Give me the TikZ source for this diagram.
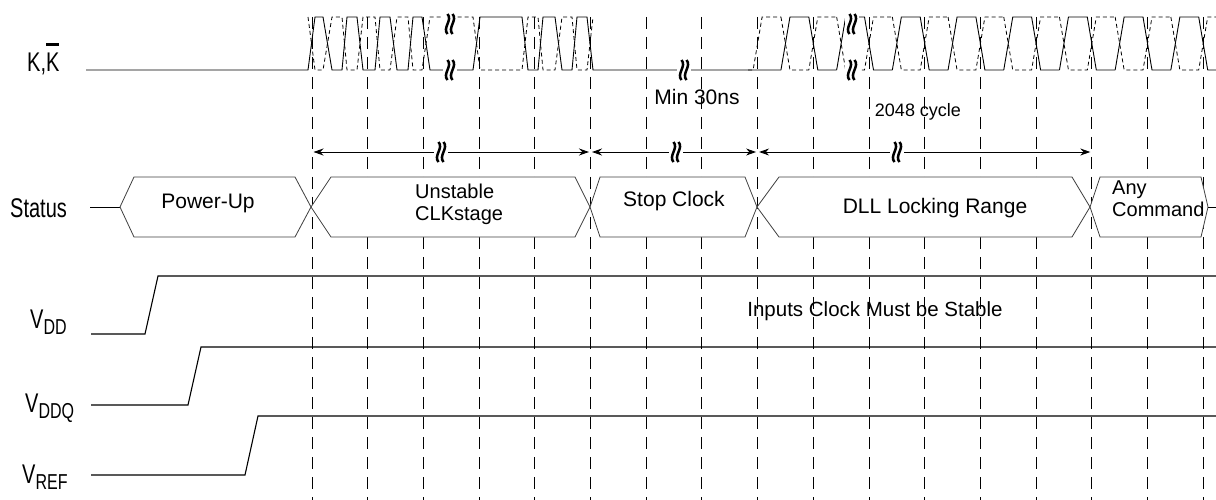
\documentclass[tikz,border=0pt]{standalone}
\usepackage{fontspec}
\setmainfont{Liberation Sans}
\usetikzlibrary{arrows.meta}
\tikzset{%
    wave/.style={line width=0.9pt},
    wavebar/.style={line width=0.8pt, dash pattern=on 4pt off 3pt},
    gridline/.style={line width=0.9pt, dash pattern=on 12pt off 8pt},
    bus/.style={draw=black!75, fill=white, line width=0.8pt},
    rail/.style={line width=1.1pt},
    span/.style={line width=0.9pt, {Stealth[length=10pt,width=7pt]}-{Stealth[length=10pt,width=7pt]}},
    siglabel/.style={inner sep=0pt, anchor=base west, font=\fontsize{20}{20}\selectfont},
    txt/.style={inner sep=0pt, font=\fontsize{21}{17.5}\selectfont},
    twoline/.style={inner sep=0pt, anchor=base west, font=\fontsize{20}{20}\selectfont}
}
\newcommand{\brkmark}[2]{%
    \fill[white] (#1-7,#2-8) rectangle (#1+7,#2+8);
    \foreach \dx in {0,5}
        \draw[line width=2.5pt] (#1-2.5+\dx,#2-10) .. controls (#1+3+\dx,#2-4) and (#1-8+\dx,#2+4) .. (#1-2.5+\dx,#2+10);
}
\newcommand{\hexbus}[4]{%
    \draw[bus] (#1,207) -- (#1+#2,177) -- (#4-#3,177) -- (#4,207) -- (#4-#3,237) -- (#1+#2,237) -- cycle;
}
\newcommand{\Vsub}[1]{V\raisebox{-5pt}{\fontsize{16}{16}\selectfont #1}}

\begin{document}
\begin{tikzpicture}[x=1pt,y=-1pt]
    \useasboundingbox (0,0) rectangle (1216,500);
    % time grid
    \foreach \k in {0,...,16}
    {
    \coordinate (g\k) at ({312+55.7*\k},152);
    \draw[gridline] ({312+55.7*\k},17) -- ({312+55.7*\k},500);
    }
    % status bus
    \draw[wave] (90,207) -- (120,207);
    \hexbus{120}{14}{16}{311}
    \hexbus{311}{20}{15}{590}
    \hexbus{590}{10}{12}{757}
    \hexbus{757}{22}{18}{1090}
    \hexbus{1090}{10}{7}{1208}
    \draw[wave] (1208,207) -- (1216,207);
    \node[txt, anchor=base] (pwr) at (208,208) {Power-Up};
    \node[twoline] (unst) at (415,198) {Unstable};
    \node[twoline] (clks) at (415,220) {CLKstage};
    \node[txt, anchor=base] (stpc) at (674,207) {Stop Clock};
    \node[txt, anchor=base] (dll) at (935,214) {DLL Locking Range};
    \node[twoline] (anyw) at (1112,194) {Any};
    \node[twoline] (cmdw) at (1112,216) {Command};
    % clock K and K bar
    \def\kunst{(308,70) -- (315,17) -- (323,17) -- (332,70) -- (342,70) -- (347,17) -- (357,17) -- (363,70) -- (375,70) -- (380,17) -- (390,17) -- (397,70) -- (408,70) -- (413,17) -- (422,17) -- (430,70) -- (473,70) -- (480,17) -- (522,17) -- (528,70) -- (538,70) -- (543,17) -- (555,17) -- (562,70) -- (572,70) -- (577,17) -- (587,17) -- (593,70)}
    \draw[wave] (86,70) -- \kunst -- (781,70);
    \begin{scope}[shift={(0,87)}, yscale=-1]
    \draw[wavebar] \kunst;
    \end{scope}
    \draw[wavebar] (748,70) -- (753.1,70) -- (762.1,17) -- (781,17);
    \foreach \k in {8,...,15}
    {
    \pgfmathsetmacro{\g}{312+55.7*\k}
    \draw[wave] ({\g+23.35},70) -- ({\g+32.35},17) -- ({\g+51.2},17) -- ({\g+60.2},70) -- ({\g+79.05},70);
    \draw[wavebar] ({\g+23.35},17) -- ({\g+32.35},70) -- ({\g+51.2},70) -- ({\g+60.2},17) -- ({\g+79.05},17);
    }
    \brkmark{450}{24}
    \brkmark{450}{70}
    \brkmark{684}{70}
    \brkmark{852}{24}
    \brkmark{852}{70}
    \node[txt, anchor=base] (min30) at (697,105) {Min 30ns};
    \node[txt, anchor=base, font=\fontsize{18}{18}\selectfont] (cyc) at (918,117) {2048 cycle};
    % spans
    \draw[span, shorten <=1.5pt, shorten >=1.5pt] (g0) -- (g5);
    \draw[span, shorten <=1.5pt, shorten >=1.5pt] (g5) -- (g8);
    \draw[span, shorten <=1.5pt, shorten >=1.5pt] (g8) -- (g14);
    \brkmark{441}{152}
    \brkmark{676}{152}
    \brkmark{897}{152}
    % supplies
    \draw[rail] (91,334) -- (145,334) -- (158,276) -- (1216,276);
    \draw[rail] (91,405) -- (188,405) -- (201,347) -- (1216,347);
    \draw[rail] (91,475) -- (245,475) -- (258,416) -- (1216,416);
    \node[txt, anchor=base, font=\fontsize{20.5}{20}\selectfont] (stable) at (875,316) {Inputs Clock Must be Stable};
    % signal names
    \node[siglabel] (klbl) at (27,72) {\scalebox{1}[1.35]{K,\rlap{\rule[0.98em]{0.667em}{0.11em}}K}};
    \node[siglabel] (stlbl) at (10,217) {\scalebox{1}[1.35]{Status}};
    \node[siglabel] (vddlbl) at (30,328) {\scalebox{1}[1.35]{\Vsub{DD}}};
    \node[siglabel] (vddqlbl) at (25,412) {\scalebox{1}[1.35]{\Vsub{DDQ}}};
    \node[siglabel] (vreflbl) at (22,483) {\scalebox{1}[1.35]{\Vsub{REF}}};
\end{tikzpicture}
\end{document}
